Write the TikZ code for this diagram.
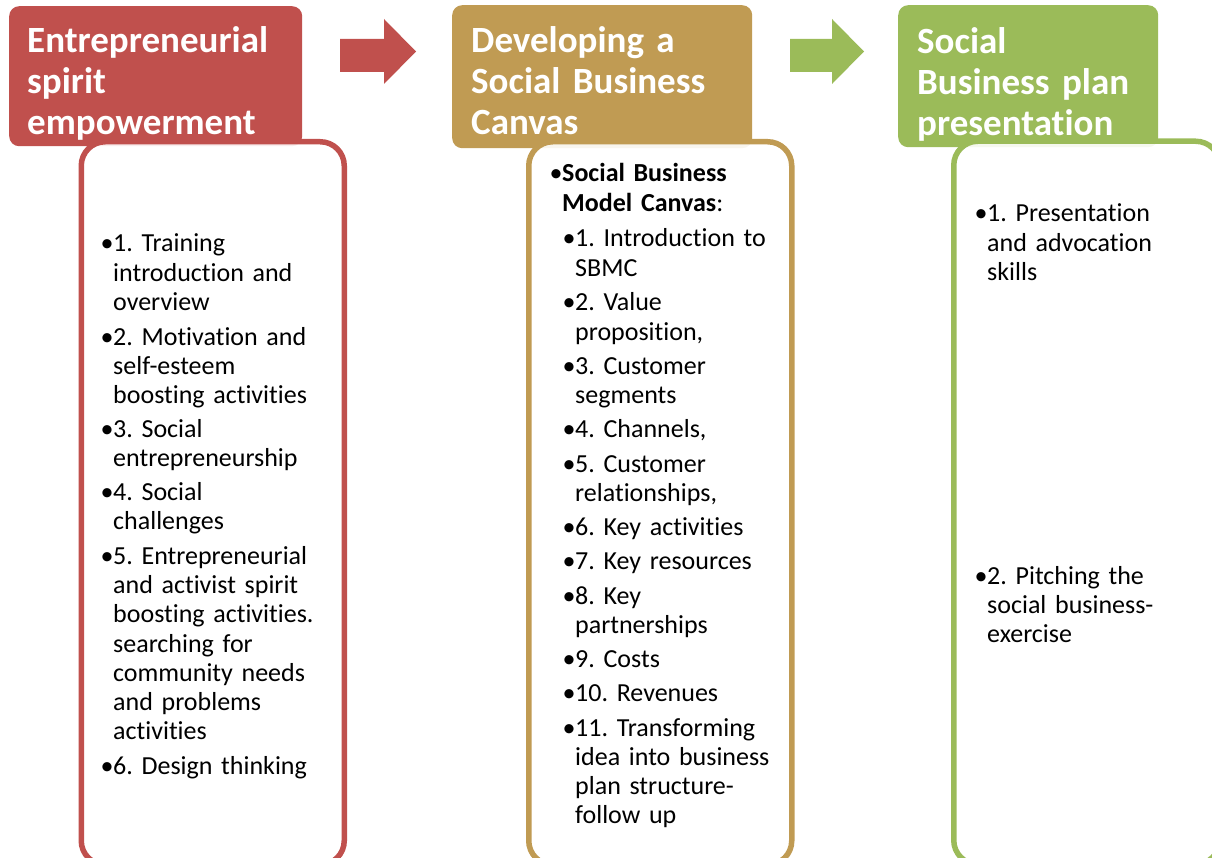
\documentclass[tikz,border=0pt]{standalone}
\usepackage{fontspec}
\setmainfont{Carlito}[Ligatures=NoCommon]
\definecolor{cred}{HTML}{C0504D}
\definecolor{cgold}{HTML}{C09B53}
\definecolor{cgreen}{HTML}{9BBB59}
\newcommand\bul{\leavevmode\llap{\makebox[12.5pt][l]{•}}}
\tikzset{
  hdr/.style={rectangle, rounded corners=10pt, fill=#1, draw=none, anchor=north west, inner sep=0pt},
  hdrtext/.style={anchor=base west, inner sep=0pt, text width=320pt, align=left, text=white,
    font=\fontsize{37}{41}\selectfont\bfseries\frenchspacing},
  card/.style={rectangle, draw=#1, line width=5.5pt, rounded corners=24pt, fill=white,
    fill opacity=0.9, draw opacity=1, anchor=north west, inner sep=0pt},
  itemtext/.style={anchor=base west, inner sep=0pt, text width=240pt, align=left,
    font=\fontsize{26}{29.2}\selectfont\frenchspacing},
  flowarrow/.style={fill=#1, draw=none},
}
\begin{document}
\begin{tikzpicture}[x=1pt,y=-1pt]
\useasboundingbox (0,0) rectangle (1212,858);
% headers
\node[hdr=cred,   minimum width=293pt, minimum height=140pt] (h1) at (9,6) {};
\node[hdr=cgold,  minimum width=300pt, minimum height=143pt] (h2) at (452,5) {};
\node[hdr=cgreen, minimum width=260pt, minimum height=142pt] (h3) at (898,5) {};
\node[hdrtext] (h1t) at (27,53) {Entrepreneurial\\spirit\\empowerment};
\node[hdrtext] (h2t) at (471,53) {Developing a\\Social Business\\Canvas};
\node[hdrtext] (h3t) at (917,54) {Social\\Business plan\\presentation};
% arrows
\fill[flowarrow=cred] (340,39) -- (384,39) -- (384,19) -- (416,51.5) -- (384,84) -- (384,72) -- (340,72) -- cycle;
\fill[flowarrow=cgreen] (790,39) -- (832,39) -- (832,19) -- (864,51.5) -- (832,84) -- (832,72) -- (790,72) -- cycle;
% cards
\node[card=cred,   minimum width=263pt, minimum height=723pt] (c1) at (78.5,139) {};
\node[card=cgold,  minimum width=263pt, minimum height=723pt] (c2) at (526,139) {};
\node[card=cgreen, minimum width=266pt, minimum height=723pt] (c3) at (951,138.5) {};
% red items
\node[itemtext] (r1) at (113,252) {\bul 1. Training\\introduction and\\overview};
\node[itemtext] (r2) at (113,345) {\bul 2. Motivation and\\self-esteem\\boosting activities};
\node[itemtext] (r3) at (113,437.5) {\bul 3. Social\\entrepreneurship};
\node[itemtext] (r4) at (113,500.5) {\bul 4. Social\\challenges};
\node[itemtext] (r5) at (113,564.5) {\bul 5. Entrepreneurial\\and activist spirit\\boosting activities.\\searching for\\community needs\\and problems\\activities};
\node[itemtext] (r6) at (113,774.5) {\bul 6. Design thinking};
% gold items
\node[itemtext] (g0) at (562,182) {\bul\textbf{Social Business}\\\textbf{Model Canvas}:};
\node[itemtext] (g1) at (575,247) {\bul 1. Introduction to\\SBMC};
\node[itemtext] (g2) at (575,311) {\bul 2. Value\\proposition,};
\node[itemtext] (g3) at (575,374) {\bul 3. Customer\\segments};
\node[itemtext] (g4) at (575,437) {\bul 4. Channels,};
\node[itemtext] (g5) at (575,472) {\bul 5. Customer\\relationships,};
\node[itemtext] (g6) at (575,535) {\bul 6. Key activities};
\node[itemtext] (g7) at (575,569) {\bul 7. Key resources};
\node[itemtext] (g8) at (575,604) {\bul 8. Key\\partnerships};
\node[itemtext] (g9) at (575,667) {\bul 9. Costs};
\node[itemtext] (g10) at (575,701) {\bul 10. Revenues};
\node[itemtext] (g11) at (575,736) {\bul 11. Transforming\\idea into business\\plan structure-\\follow up};
% green items
\node[itemtext] (n1) at (987,222) {\bul 1. Presentation\\and advocation\\skills};
\node[itemtext] (n2) at (987,584) {\bul 2. Pitching the\\social business-\\exercise};
\end{tikzpicture}
\end{document}
